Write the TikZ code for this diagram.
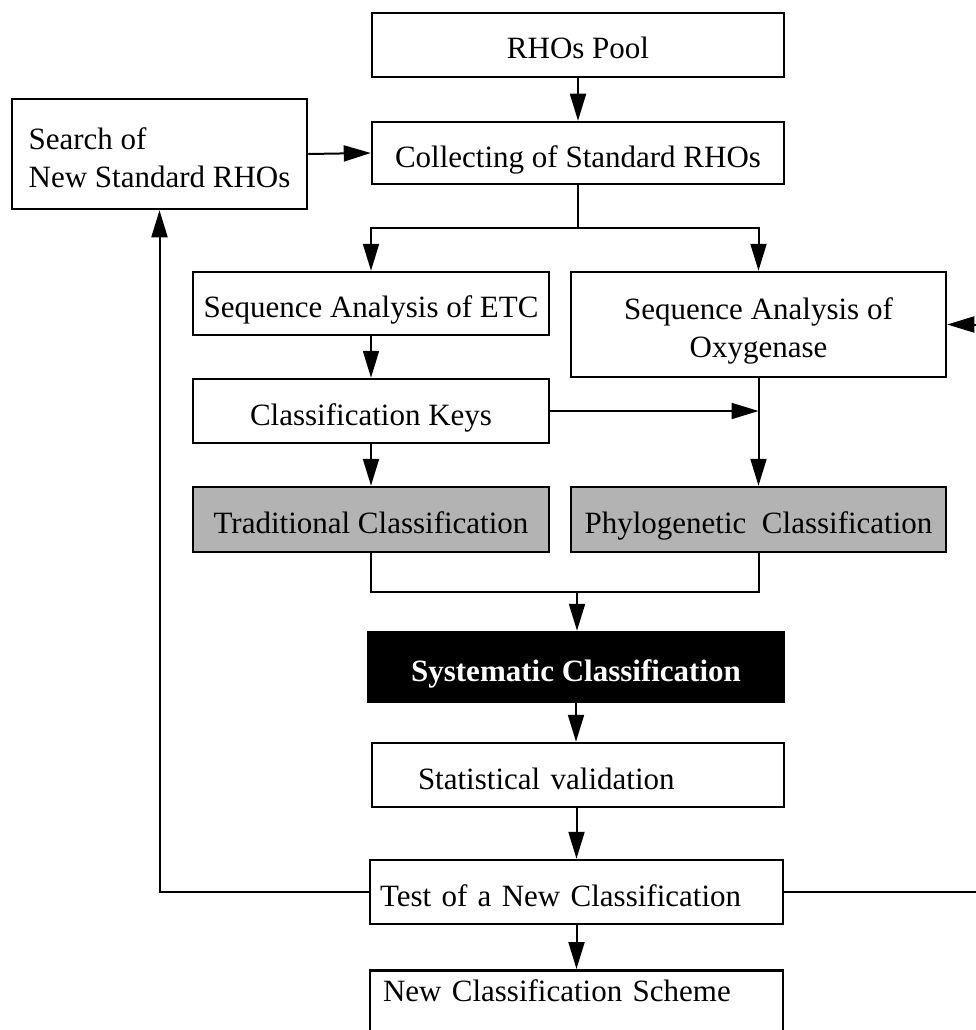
\documentclass[tikz,border=0pt]{standalone}
\usepackage{fontspec}
\setmainfont{Liberation Serif}
\usetikzlibrary{arrows.meta}
\definecolor{boxgray}{RGB}{179,179,179}
\begin{document}
\begin{tikzpicture}[x=1pt,y=-1pt,
  box/.style={draw, line width=2.5pt, inner sep=0pt, text height=28pt, text depth=0pt, font=\fontsize{31}{38}\selectfont, align=center},
  twoline/.style={text height=66pt, text depth=0pt},
  conn/.style={line width=2pt},
  arr/.style={conn, -{Triangle[length=27pt,width=16pt]}}
]
\useasboundingbox (0,0) rectangle (976,1030);
\clip (0,0) rectangle (976,1030);

\node[box, minimum width=412, minimum height=64] (pool) at (578,45) {RHOs Pool};
\node[box, minimum width=412, minimum height=62] (coll) at (578,153) {Collecting of Standard RHOs};
\node[box, twoline, minimum width=295, minimum height=110, align=left] (search) at (159.5,154) {Search of\\New Standard RHOs};
\node[box, minimum width=356, minimum height=63] (etc) at (371,303.5) {Sequence Analysis of ETC};
\node[box, twoline, minimum width=375, minimum height=105] (oxy) at (758.5,324.5) {Sequence Analysis of\\Oxygenase};
\node[box, minimum width=356, minimum height=64] (keys) at (371,411) {Classification Keys};
\node[box, fill=boxgray, minimum width=356, minimum height=65] (trad) at (371,519.5) {Traditional Classification};
\node[box, fill=boxgray, minimum width=375, minimum height=65] (phylo) at (758.5,519.5) {Phylogenetic\ \ Classification};
\node[box, fill=black, text=white, minimum width=416, minimum height=70, font=\fontsize{31}{38}\selectfont\bfseries] (sys) at (576,667) {Systematic Classification};
\node[box, minimum width=412, minimum height=64, text width=320, align=left] (stat) at (578,775) {Statistical validation};
\node[box, minimum width=413, minimum height=64, text width=393, align=left] (test) at (576.5,892) {Test of a New Classification};
\node[box, anchor=north, minimum width=413, text width=387, align=left, inner ysep=9pt, text height=22pt, text depth=70pt] (scheme) at (576.5,969) {New Classification Scheme};

\coordinate (j1) at (578,228);
\coordinate (j2) at (577,592);
\coordinate (rx) at (992,0);

\draw[arr] (pool) -- (coll);
\draw[arr] (search.east) -- (coll.west);
\draw[conn] (coll.south) -- (j1);
\draw[arr] (j1) -| (etc.north);
\draw[arr] (j1) -| (oxy.north);
\draw[arr] (etc) -- (keys);
\draw[arr] (keys.east) -- (keys.east -| oxy.south);
\draw[arr] (oxy.south) -- (phylo.north);
\draw[arr] (keys) -- (trad);
\draw[conn] (trad.south) |- (j2);
\draw[conn] (phylo.south) |- (j2);
\draw[arr] (j2) -- (j2 |- sys.north);
\draw[arr] (sys.south) -- (sys.south |- stat.north);
\draw[arr] (stat.south -| test.north) -- (test.north);
\draw[arr] (test.south) -- (scheme.north);
\draw[arr] (test.west) -| (search.south);
\draw[arr] (test.east) -- (test.east -| rx) -- (rx |- oxy.east) -- (oxy.east);
\end{tikzpicture}
\end{document}
